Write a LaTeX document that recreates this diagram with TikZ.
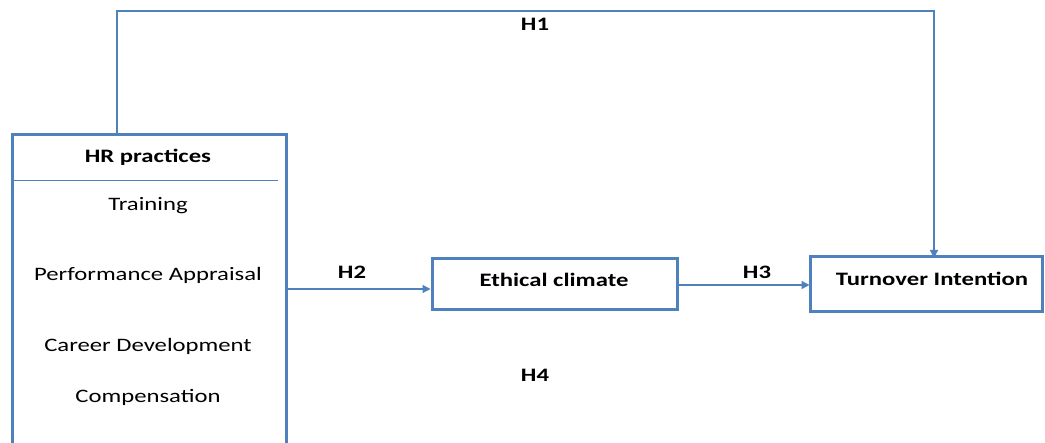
\documentclass[tikz,border=0pt]{standalone}
\usepackage{fontspec}
\setmainfont{Carlito}
\usetikzlibrary{arrows.meta}
\definecolor{lblue}{HTML}{4F81BD}
\newcommand{\sxt}[1]{\scalebox{1.3}[1]{#1}}
\begin{document}
\begin{tikzpicture}[x=1pt,y=-1pt,
  box/.style={draw=lblue,line width=3pt,inner sep=0pt},
  conn/.style={draw=lblue,line width=1.2pt,-{Triangle[length=8pt,width=8pt]}},
  txt/.style={font=\fontsize{19}{21}\selectfont,inner sep=0pt},
  btxt/.style={font=\fontsize{19}{21}\selectfont\bfseries,inner sep=0pt}]
\useasboundingbox[fill=white] (0,0) rectangle (1045,443);
% HR practices box (bottom clipped)
\begin{scope}
\clip (0,0) rectangle (1045,443);
\draw[draw=lblue,line width=3pt] (12,460) -- (12,135) -- (286,135) -- (286,460);
\end{scope}
\coordinate (hrtop) at (117,135);
\coordinate (hrright) at (286,289);
\draw[lblue,line width=1pt] (12,181) -- (278,181);
\node[btxt] (hr) at (148,157) {\sxt{HR practices}};
\node[txt] (t1) at (148,206) {\sxt{Training}};
\node[txt] (t2) at (148,275) {\sxt{Performance Appraisal}};
\node[txt] (t3) at (148,346) {\sxt{Career Development}};
\node[txt] (t4) at (148,397) {\sxt{Compensation}};
% Ethical climate
\node[box,minimum width=245pt,minimum height=51pt] (ec) at (554.5,284) {};
\node[btxt] (ecl) at (554,280) {\sxt{Ethical climate}};
% Turnover intention
\node[box,minimum width=232pt,minimum height=55pt] (ti) at (926,284) {};
\node[btxt] (til) at (932,279) {\sxt{Turnover Intention}};
\coordinate (c1) at (117,11);
\coordinate (c2) at (934,11);
\coordinate (c3) at (934,258);
\coordinate (h3s) at (678.5,285);
\coordinate (h3e) at (809.5,285);
% connectors
\draw[conn] (hrtop) -- (c1) -- (c2) -- (c3);
\draw[conn] (hrright) -- (ec.west |- hrright);
\draw[conn] (h3s) -- (h3e);
% labels
\node[btxt] (h1) at (535,24) {\sxt{H1}};
\node[btxt] (h2) at (352,272) {\sxt{H2}};
\node[btxt] (h3) at (757,272) {\sxt{H3}};
\node[btxt] (h4) at (535,375) {\sxt{H4}};
\end{tikzpicture}
\end{document}
